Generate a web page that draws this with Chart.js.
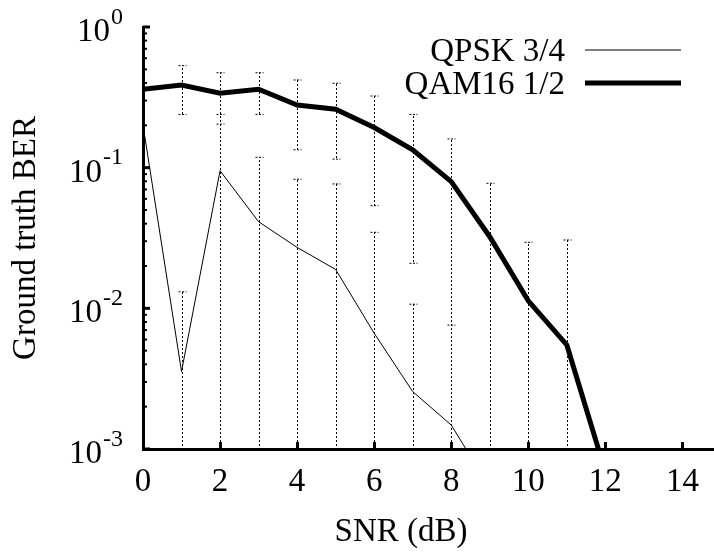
<!DOCTYPE html>
<html>
<head>
<meta charset="utf-8">
<script src="https://cdn.jsdelivr.net/npm/chart.js@4.4.1/dist/chart.umd.js"></script>
<style>
  html, body { margin: 0; padding: 0; background: #fff; overflow: hidden; }
  canvas { display: block; }
</style>
</head>
<body>
<canvas id="berChart" width="714" height="552"></canvas>
<script>
const snr = [0, 1, 2, 3, 4, 5, 6, 7, 8, 9, 10, 11, 12, 13, 14]

const qpskBer = [0.201, 0.00355, 0.0951, 0.0413, 0.0271, 0.0189, 0.00665, 0.00256, 0.00148, 0.00053, null, null, null, null, null]
const qpskHigh = [null, 0.0131, 0.239, 0.1185, 0.0827, 0.0766, 0.0347, 0.0107, 0.0076, null, null, null, null, null, null]
const qpskLow = [null, 0, 0, 0, 0, 0, 0, 0, 0, null, null, null, null, null, null]

const qamBer = [0.361, 0.387, 0.338, 0.361, 0.279, 0.26, 0.193, 0.134, 0.0795, 0.0323, 0.0113, 0.00549, 0.00069, null, null]
const qamHigh = [null, 0.531, 0.473, 0.473, 0.42, 0.398, 0.323, 0.239, 0.16, 0.0774, 0.0295, 0.0306, null, null, null]
const qamLow = [null, 0.239, 0.204, 0.239, 0.134, 0.115, 0.0537, 0.0209, 0, 0, 0, 0, null, null, null]

const xTicks = [0, 2, 4, 6, 8, 10, 12, 14]
const yTicks = [0.001, 0.01, 0.1, 1]
const yTickExponents = ["-3", "-2", "-1", "0"]

const xTitle = "SNR (dB)"
const yTitle = "Ground truth BER"

const serif = "'Liberation Serif', 'Times New Roman', serif"
const font = { family: serif, size: 33 }

// dotted error bars, drawn under the lines
const errorBars = {
  id: "errorBars",
  beforeDatasetsDraw(chart) {
    const { ctx, chartArea, scales: { x, y } } = chart
    ctx.save()
    ctx.beginPath()
    ctx.rect(chartArea.left, chartArea.top, chartArea.right - chartArea.left, chartArea.bottom - chartArea.top)
    ctx.clip()
    ctx.strokeStyle = "#000"
    ctx.lineWidth = 1

    const cap = (px, py) => {
      ctx.setLineDash([2, 1.5])
      ctx.beginPath()
      ctx.moveTo(px - 4, py)
      ctx.lineTo(px + 4, py)
      ctx.stroke()
    }

    const sets = [[qpskLow, qpskHigh], [qamLow, qamHigh]]
    sets.forEach(([low, high]) => {
      snr.forEach((s, i) => {
        if (high[i] == null) return
        const px = Math.round(x.getPixelForValue(s)) + 0.5
        const top = y.getPixelForValue(high[i])
        const bottom = low[i] > 0 ? y.getPixelForValue(low[i]) : chartArea.bottom
        ctx.setLineDash([2, 2])
        ctx.lineDashOffset = top % 4
        ctx.beginPath()
        ctx.moveTo(px, top)
        ctx.lineTo(px, bottom)
        ctx.stroke()
        ctx.lineDashOffset = 0
        cap(px, top)
        if (low[i] > 0) cap(px, bottom)
      })
    })
    ctx.restore()
  }
}

// inward ticks, superscript labels, x title, legend
const decorations = {
  id: "decorations",
  afterDraw(chart) {
    const { ctx, chartArea, scales: { x, y } } = chart
    ctx.save()
    ctx.strokeStyle = "#000"
    ctx.fillStyle = "#000"
    ctx.setLineDash([])

    ctx.lineWidth = 3
    xTicks.slice(1).forEach((v) => {
      const px = Math.round(x.getPixelForValue(v)) + 0.5
      ctx.beginPath()
      ctx.moveTo(px, chartArea.bottom)
      ctx.lineTo(px, chartArea.bottom - 7)
      ctx.stroke()
    })

    yTicks.forEach((v, i) => {
      const py = y.getPixelForValue(v)
      ctx.lineWidth = 3
      ctx.beginPath()
      ctx.moveTo(chartArea.left, py)
      ctx.lineTo(chartArea.left + 7, py)
      ctx.stroke()
      if (i < yTicks.length - 1) {
        ctx.lineWidth = 2
        for (let k = 2; k <= 9; k++) {
          const my = y.getPixelForValue(v * k)
          ctx.beginPath()
          ctx.moveTo(chartArea.left, my)
          ctx.lineTo(chartArea.left + 4, my)
          ctx.stroke()
        }
      }
    })

    // y tick labels as 10 with a raised exponent
    const rightX = 123
    yTicks.forEach((v, i) => {
      const py = y.getPixelForValue(v)
      const baseline = py + 14
      ctx.font = `24px ${serif}`
      ctx.textAlign = "right"
      ctx.textBaseline = "alphabetic"
      const expWidth = ctx.measureText(yTickExponents[i]).width
      ctx.fillText(yTickExponents[i], rightX, baseline - 17.5)
      ctx.font = `33px ${serif}`
      ctx.fillText("10", rightX - expWidth - 1, baseline)
    })

    ctx.font = `33px ${serif}`
    ctx.textAlign = "center"
    ctx.fillText(xTitle, 401, 541)

    ctx.textAlign = "right"
    const legendRows = [61, 94]
    chart.data.datasets.forEach((ds, i) => {
      const rowY = legendRows[i]
      ctx.fillText(ds.label, 565, rowY)
      ctx.lineWidth = ds.borderWidth
      ctx.beginPath()
      ctx.moveTo(585, rowY - 11)
      ctx.lineTo(681, rowY - 11)
      ctx.stroke()
    })
    ctx.restore()
  }
}

new Chart(document.getElementById("berChart"), {
  type: "line",
  data: {
    labels: snr,
    datasets: [
      {
        label: "QPSK 3/4",
        data: snr.map((s, i) => ({ x: s, y: qpskBer[i] })),
        borderColor: "#000",
        borderWidth: 1,
        pointRadius: 0,
        tension: 0,
        spanGaps: false,
        clip: 0
      },
      {
        label: "QAM16 1/2",
        data: snr.map((s, i) => ({ x: s, y: qamBer[i] })),
        borderColor: "#000",
        borderWidth: 5,
        pointRadius: 0,
        tension: 0,
        spanGaps: false,
        clip: 0
      }
    ]
  },
  options: {
    responsive: false,
    animation: false,
    devicePixelRatio: 1,
    layout: { padding: { top: 27, right: 0, bottom: 0, left: 0 } },
    plugins: { legend: { display: false }, tooltip: { enabled: false } },
    scales: {
      x: {
        type: "linear",
        min: 0,
        max: 14.82,
        grid: { display: false, drawTicks: false },
        border: { display: true, width: 3, color: "#000" },
        afterBuildTicks: (scale) => { scale.ticks = xTicks.map((value) => ({ value })) },
        afterFit: (scale) => { scale.height = 103 },
        ticks: { color: "#000", font, padding: 14, maxRotation: 0, autoSkip: false }
      },
      y: {
        type: "logarithmic",
        min: 0.001,
        max: 1,
        grid: { display: false, drawTicks: false },
        border: { display: true, width: 3, color: "#000" },
        afterBuildTicks: (scale) => { scale.ticks = yTicks.map((value) => ({ value })) },
        afterFit: (scale) => { scale.width = 143 },
        ticks: { display: false },
        title: { display: true, text: yTitle, color: "#000", font, padding: { top: 7, bottom: 0 } }
      }
    }
  },
  plugins: [errorBars, decorations]
})
</script>
</body>
</html>
